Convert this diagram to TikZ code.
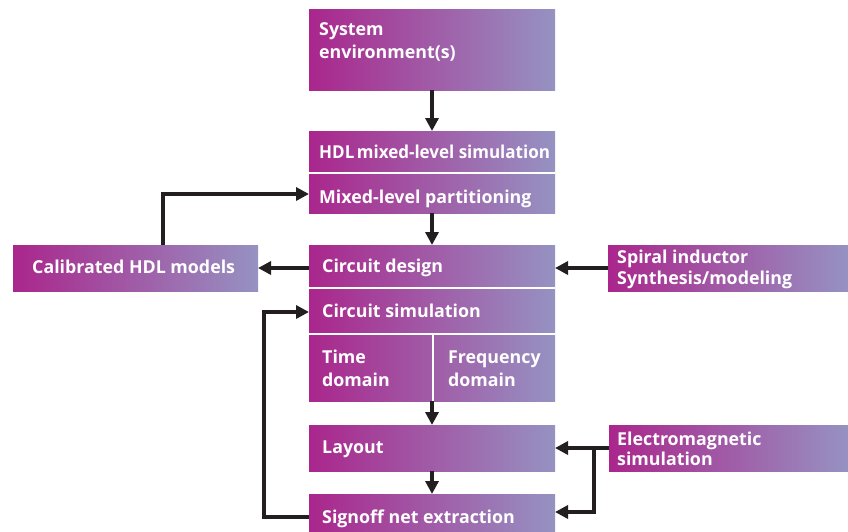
\documentclass[tikz,border=0pt]{standalone}
\usepackage{fontspec}
\setmainfont{Open Sans}
\usetikzlibrary{arrows.meta}
\definecolor{magL}{RGB}{170,38,140}
\definecolor{lavR}{RGB}{150,146,194}
\definecolor{ink}{RGB}{35,31,32}
\begin{document}
\begin{tikzpicture}[x=1pt,y=-1pt,
  box/.style={draw=none, inner sep=0pt, outer sep=0pt, anchor=north west,
    left color=magL, right color=lavR},
  sep/.style={draw=white, line width=1.5pt},
  txt/.style={anchor=base west, inner sep=0pt, text=white,
    font=\fontsize{17.8}{22}\selectfont\bfseries},
  conn/.style={draw=ink, line width=3.3pt, line join=miter,
    -{Triangle[length=13pt,width=13pt]}}]
\useasboundingbox (0,0) rectangle (848,531);

% boxes
\node[box, minimum width=246pt, minimum height=81pt]  (sys) at (309,9)   {};
\node[box, minimum width=246pt, minimum height=82pt]  (hdl) at (309,131) {};
\node[box, minimum width=246pt, minimum height=156pt] (cir) at (309,245) {};
\node[box, minimum width=245pt, minimum height=46pt]  (cal) at (13,245)  {};
\node[box, minimum width=240pt, minimum height=46pt]  (spi) at (608,245) {};
\node[box, minimum width=246pt, minimum height=46pt]  (lay) at (309,425) {};
\node[box, minimum width=239pt, minimum height=46pt]  (em)  at (609,425) {};
\node[box, minimum width=246pt, minimum height=37pt]  (sig) at (309,494) {};

% white row separators
\draw[sep] (309,173) -- (555,173);
\draw[sep] (309,288) -- (555,288);
\draw[sep] (309,334) -- (555,334);
\draw[sep] (433,334) -- (433,401);

% labels
\node[txt] (sysA) at (319,35)  {System};
\node[txt] (sysB) at (319,58)  {environment(s)};
\node[txt] (hdlA) at (319,158) {\scalebox{0.955}[1]{HDL\kern-2pt\ mixed-level simulation}};
\node[txt] (hdlB) at (319,203) {Mixed-level partitioning};
\node[txt] (calA) at (32,273)  {Calibrated HDL models};
\node[txt] (cirA) at (322,272) {Circuit design};
\node[txt] (cirB) at (322,317) {Circuit simulation};
\node[txt] (timA) at (322,363) {Time};
\node[txt] (timB) at (322,386) {domain};
\node[txt] (frqA) at (448,363) {Frequency};
\node[txt] (frqB) at (448,386) {domain};
\node[txt] (spiA) at (617,263) {Spiral inductor};
\node[txt] (spiB) at (617,284) {Synthesis/modeling};
\node[txt] (layA) at (322,453) {Layout};
\node[txt] (emA)  at (617,445) {Electromagnetic};
\node[txt] (emB)  at (617,465) {simulation};
\node[txt] (sigA) at (322,523) {Signoff net extraction};

% helper points for the bent connectors
\coordinate (calup)  at (163,194);
\coordinate (simrow) at (309,312);
\coordinate (fbx)    at (264,517);
\coordinate (emjoin) at (594,446.35);
\coordinate (emlow)  at (594,512);

% main flow
\draw[conn] (sys.south) -- (hdl.north);
\draw[conn] (hdl.south) -- (cir.north);
\draw[conn] (cir.south) -- (lay.north);
\draw[conn] (lay.south) -- (sig.north);

% side connectors
\draw[conn] (cir.west |- cal.east) -- (cal.east);
\draw[conn] (cal.north -| calup) -- (calup) -- (hdl.west |- calup);
\draw[conn] (spi.west) -- (cir.east |- spi.west);
\draw[conn] (em.west) -- (lay.east |- em.west);
\draw[conn] (emjoin) -- (emlow) -- (sig.east |- emlow);
\draw[conn] (sig.west |- fbx) -- (fbx) -- (fbx |- simrow) -- (simrow);
\end{tikzpicture}
\end{document}
